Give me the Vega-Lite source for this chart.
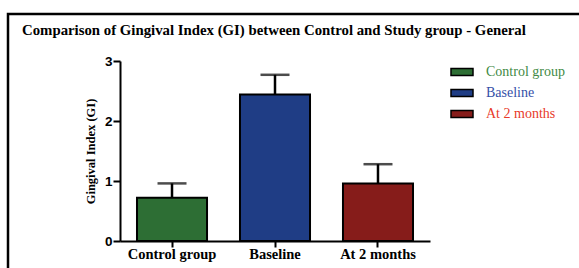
{
  "$schema": "https://vega.github.io/schema/vega-lite/v6.json",
  "autosize": "none",
  "padding": {"left": 8, "top": 14, "right": 0, "bottom": 0},
  "width": 580,
  "height": 260,
  "background": "white",
  "config": {
    "view": {"stroke": "black", "strokeWidth": 2.5},
    "axis": {"grid": false}
  },
  "title": {
    "text": "Comparison of Gingival Index (GI) between Control and Study group - General",
    "anchor": "start",
    "frame": "group",
    "font": "Liberation Serif",
    "fontSize": 14.8,
    "fontWeight": "bold",
    "color": "black",
    "dx": 14,
    "dy": 28
  },
  "data": {
    "values": [
      {"group": "Control group", "mean": 0.72, "upper": 0.96},
      {"group": "Baseline", "mean": 2.44, "upper": 2.77},
      {"group": "At 2 months", "mean": 0.96, "upper": 1.28}
    ]
  },
  "encoding": {
    "x": {
      "field": "group",
      "type": "nominal",
      "sort": null,
      "scale": {"range": [112, 422], "paddingInner": 0.32, "paddingOuter": 0.165},
      "axis": {
        "title": null,
        "orient": "bottom",
        "offset": -33,
        "labelAngle": 0,
        "labelFont": "Liberation Serif",
        "labelFontSize": 14.5,
        "labelFontWeight": "bold",
        "labelColor": "black",
        "labelPadding": 0,
        "tickSize": 6,
        "tickWidth": 2,
        "tickColor": "black",
        "domainColor": "black",
        "domainWidth": 2
      }
    }
  },
  "layer": [
    {
      "mark": {"type": "bar", "stroke": "black", "strokeWidth": 2},
      "encoding": {
        "y": {
          "field": "mean",
          "type": "quantitative",
          "scale": {"domain": [0, 3], "range": [227, 47], "nice": false},
          "axis": {
            "title": "Gingival Index (GI)",
            "orient": "left",
            "offset": -112,
            "values": [0, 1, 2, 3],
            "format": "d",
            "labelFont": "Liberation Sans",
            "labelFontSize": 13.5,
            "labelFontWeight": "bold",
            "labelColor": "black",
            "labelPadding": 1,
            "tickSize": 7,
            "tickWidth": 2,
            "tickColor": "black",
            "domainColor": "black",
            "domainWidth": 2,
            "titleFont": "Liberation Serif",
            "titleFontSize": 12.5,
            "titleFontWeight": "bold",
            "titleColor": "black",
            "titlePadding": 7
          }
        },
        "fill": {
          "field": "group",
          "type": "nominal",
          "sort": null,
          "scale": {"domain": ["Control group", "Baseline", "At 2 months"], "range": ["#2d6e34", "#1f3d85", "#861c1a"]},
          "legend": {
            "title": null,
            "orient": "none",
            "legendX": 442,
            "legendY": 46,
            "padding": 0,
            "rowPadding": 2,
            "symbolType": "M-1,-0.32H1V0.32H-1Z",
            "symbolSize": 484,
            "symbolStrokeColor": "black",
            "symbolStrokeWidth": 1.5,
            "symbolOpacity": 1,
            "labelOffset": 12,
            "labelFont": "Liberation Serif",
            "labelFontSize": 14,
            "labelBaseline": "middle",
            "labelLimit": 200,
            "encode": {
              "labels": {
                "update": {
                  "fill": {"signal": "datum.value === 'Control group' ? '#3f8a45' : datum.value === 'Baseline' ? '#3550a8' : '#e83a2a'"}
                }
              }
            }
          }
        }
      }
    },
    {
      "mark": {"type": "rule", "color": "black", "strokeWidth": 2.5},
      "encoding": {
        "y": {"field": "mean", "type": "quantitative"},
        "y2": {"field": "upper"}
      }
    },
    {
      "mark": {"type": "tick", "color": "black", "thickness": 2.5, "size": 29, "orient": "horizontal"},
      "encoding": {
        "y": {"field": "upper", "type": "quantitative"}
      }
    }
  ]
}
